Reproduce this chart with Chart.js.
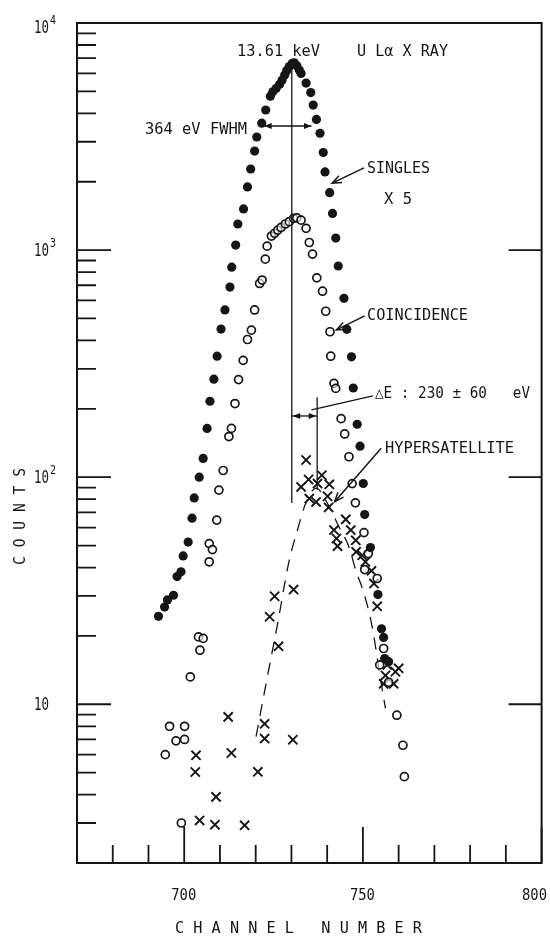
<!DOCTYPE html>
<html>
<head>
<meta charset="UTF-8">
<title>U L-alpha X ray</title>
<script src="https://cdn.jsdelivr.net/npm/chart.js"></script>
<style>
    html, body { margin: 0; padding: 0; background: #fff; }
    #wrap { width: 550px; height: 939px; }
</style>
</head>
<body>
<div id="wrap"><canvas id="chart" width="550" height="939"></canvas></div>
<script>
// singles (filled dots), channel number / counts
const singlesX = [692.8, 694.5, 695.3, 697.0, 698.0, 699.1, 699.7, 701.1, 702.2, 702.8, 704.2, 705.3, 706.4, 707.2, 708.3,
    709.2, 710.3, 711.4, 712.8, 713.3, 714.4, 715.0, 716.6, 717.7, 718.6, 719.7, 720.3, 721.7, 722.8, 724.1, 724.8, 725.7,
    726.7, 727.4, 728.1, 728.7, 729.4, 730.2, 730.8, 731.5, 732.2, 732.7, 734.1, 735.4, 736.1, 737.0, 738.0, 738.9, 739.4,
    740.7, 741.5, 742.4, 743.1, 744.7, 745.5, 746.8, 747.3, 748.4, 749.2, 750.1, 750.5, 752.1, 754.2, 755.2, 755.8, 756.1, 757.2];
const singlesY = [24.4, 26.8, 28.8, 30.2, 36.5, 38.3, 45, 51.8, 66, 81, 100, 121, 164, 216, 270,
    341, 449, 545, 687, 841, 1052, 1303, 1518, 1898, 2275, 2728, 3148, 3623, 4140, 4760, 4980, 5150,
    5380, 5610, 5900, 6170, 6430, 6640, 6680, 6480, 6210, 6000, 5440, 4940, 4350, 3760, 3270, 2690, 2210,
    1790, 1450, 1130, 851, 613, 448, 339, 247, 171, 137, 93.8, 68.5, 49, 30.4, 21.5, 19.7, 15.9, 15.4];

// coincidence (open circles)
const coincX = [694.7, 695.9, 697.7, 699.2, 700.1, 700.1, 701.7, 704.0, 704.4, 705.3, 707.0, 707.0, 707.9, 709.1, 709.7,
    710.9, 712.5, 713.2, 714.2, 715.2, 716.5, 717.7, 718.8, 719.7, 721.1, 721.8, 722.7, 723.2, 724.4, 725.3, 726.2,
    727.1, 728.3, 729.4, 730.6, 731.5, 732.7, 734.1, 735.0, 735.9, 737.1, 738.7, 739.6, 740.8, 741.0, 741.9, 742.4,
    743.9, 744.9, 746.1, 747.0, 747.9, 750.3, 751.5, 750.5, 754.0, 755.8, 754.7, 757.2, 759.5, 761.2, 761.6];
const coincY = [6.0, 8.0, 6.9, 3.0, 8.0, 7.0, 13.2, 19.8, 17.3, 19.5, 42.4, 51, 48, 64.7, 87.7,
    107, 151, 164, 211, 269, 327, 404, 444, 545, 713, 738, 912, 1041, 1153, 1186, 1225,
    1258, 1303, 1334, 1380, 1387, 1355, 1247, 1080, 960, 755, 659, 538, 437, 341, 259, 246,
    181, 155, 123, 93.7, 77.1, 57, 46.1, 39.2, 35.8, 17.6, 14.9, 12.5, 8.95, 6.6, 4.8];

// hypersatellite (crosses)
const hyperX = [703.3, 703.1, 704.3, 708.6, 708.9, 712.3, 713.2, 716.9, 720.6, 722.5, 722.5, 723.9, 725.3, 726.4, 730.4,
    730.6, 732.7, 734.1, 734.8, 735.0, 736.9, 737.3, 738.5, 740.1, 740.4, 740.6, 741.9, 742.6, 742.9, 745.2, 746.6,
    748.0, 748.1, 749.8, 750.7, 752.4, 753.1, 754.0, 755.8, 756.3, 756.8, 758.6, 759.1, 760.0];
const hyperY = [5.96, 5.03, 3.08, 2.95, 3.91, 8.8, 6.1, 2.93, 5.04, 8.2, 7.06, 24.3, 29.9, 18.0, 6.98,
    32.0, 90.6, 119, 97.7, 80.5, 77.8, 93.7, 102, 82.4, 73.6, 93, 58.5, 53.7, 49.7, 65.2, 58.5,
    52.7, 46.9, 45.3, 42.4, 38.7, 34.0, 27.0, 12.3, 13.4, 14.9, 12.3, 13.9, 14.4];

// dashed hand-drawn curve through the hypersatellite
const fitX = [720.1, 723.1, 726.3, 729.2, 731.8, 734.0, 736.9, 740.1, 743.3, 746.1, 748.0, 750.3, 752.6, 754.9, 756.3];
const fitY = [7.2, 12.8, 23.4, 41.7, 59.4, 76.7, 89.5, 76.6, 60.4, 49.3, 38.9, 30.8, 21.9, 13.0, 9.6];

// axes
const xMajor = [700, 750, 800];
const xMajorLabels = ['700', '750', '800'];
const xMinor = [680, 690, 710, 720, 730, 740, 760, 770, 780, 790];
const yDecades = [10, 100, 1000, 10000];
const yDecadeExp = ['', '2', '3', '4'];
const yMinor = [3, 4, 5, 6, 7, 8, 9, 20, 30, 40, 50, 60, 70, 80, 90,
    200, 300, 400, 500, 600, 700, 800, 900, 2000, 3000, 4000, 5000, 6000, 7000, 8000, 9000];

const INK = '#151515';
const FONT = '"DejaVu Sans Mono", "Liberation Mono", monospace';

function pairs(xs, ys) {
    return xs.map((x, i) => ({ x: x, y: ys[i] }));
}

// draws text squeezed/stretched to span x0..x1, centered vertically at yc
function fitText(ctx, str, x0, x1, yc, size) {
    ctx.save();
    ctx.font = size + 'px ' + FONT;
    ctx.textAlign = 'left';
    ctx.textBaseline = 'alphabetic';
    const w = ctx.measureText(str).width;
    ctx.translate(x0, yc + size * 0.365);
    ctx.scale((x1 - x0) / w, 1);
    ctx.fillText(str, 0, 0);
    ctx.restore();
}

function arrowHead(ctx, x1, y1, x2, y2, len, filled) {
    const a = Math.atan2(y2 - y1, x2 - x1);
    const s = 0.38;
    ctx.beginPath();
    ctx.moveTo(x2 - len * Math.cos(a - s), y2 - len * Math.sin(a - s));
    ctx.lineTo(x2, y2);
    ctx.lineTo(x2 - len * Math.cos(a + s), y2 - len * Math.sin(a + s));
    if (filled) { ctx.closePath(); ctx.fill(); } else { ctx.stroke(); }
}

const decorations = {
    id: 'decorations',
    afterDraw(chart) {
        const ctx = chart.ctx;
        const a = chart.chartArea;
        const xs = chart.scales.x, ys = chart.scales.y;
        const px = v => xs.getPixelForValue(v);
        const py = v => ys.getPixelForValue(v);

        ctx.save();
        ctx.strokeStyle = INK;
        ctx.fillStyle = INK;

        // frame
        ctx.lineWidth = 2;
        ctx.strokeRect(a.left, a.top, a.right - a.left, a.bottom - a.top);

        // ticks, pointing inward
        ctx.lineWidth = 1.8;
        ctx.beginPath();
        yDecades.forEach(v => {
            const y = py(v);
            ctx.moveTo(a.left, y); ctx.lineTo(a.left + 34, y);
            if (v < 10000) { ctx.moveTo(a.right, y); ctx.lineTo(a.right - 33, y); }
        });
        yMinor.forEach(v => {
            const y = py(v);
            ctx.moveTo(a.left, y); ctx.lineTo(a.left + 19, y);
        });
        xMajor.forEach(v => {
            const x = px(v);
            ctx.moveTo(x, a.bottom); ctx.lineTo(x, a.bottom - 36);
        });
        xMinor.forEach(v => {
            const x = px(v);
            ctx.moveTo(x, a.bottom); ctx.lineTo(x, a.bottom - 18);
        });
        ctx.stroke();

        // tick labels
        xMajor.forEach((v, i) => {
            let c = px(v);
            if (c + 13 > 548) c = 548 - 13;
            fitText(ctx, xMajorLabels[i], c - 13, c + 12, 894, 16);
        });
        yDecades.forEach((v, i) => {
            const y = Math.max(py(v), 27);
            fitText(ctx, '10', 34, 49, y, 17);
            if (yDecadeExp[i]) fitText(ctx, yDecadeExp[i], 50, 56, y - 8, 13);
        });

        // axis titles
        fitText(ctx, 'C H A N N E L   N U M B E R', 175, 422, 928, 15);
        ctx.save();
        ctx.translate(20, 565);
        ctx.rotate(-Math.PI / 2);
        fitText(ctx, 'C O U N T S', 0, 97, 0, 15);
        ctx.restore();

        // peak line and energy shift
        ctx.lineWidth = 1.3;
        const xPeak = px(730.1), xHyp = px(737.2);
        ctx.beginPath();
        ctx.moveTo(xPeak, py(6700)); ctx.lineTo(xPeak, py(77));
        ctx.moveTo(xHyp, py(225)); ctx.lineTo(xHyp, py(88));
        ctx.stroke();

        const yDE = py(186);
        ctx.beginPath();
        ctx.moveTo(xPeak, yDE); ctx.lineTo(xHyp, yDE);
        ctx.stroke();
        arrowHead(ctx, xHyp, yDE, xPeak + 1, yDE, 8, true);
        arrowHead(ctx, xPeak, yDE, xHyp - 1, yDE, 8, true);

        ctx.beginPath();
        ctx.moveTo(px(735.6), py(198)); ctx.lineTo(px(752.8), py(228));
        ctx.stroke();

        // FWHM arrow
        const yF = py(3520), xF0 = px(722.4), xF1 = px(735.6);
        ctx.beginPath();
        ctx.moveTo(xF0, yF); ctx.lineTo(xF1, yF);
        ctx.stroke();
        arrowHead(ctx, xF1, yF, xF0, yF, 8, true);
        arrowHead(ctx, xF0, yF, xF1, yF, 8, true);

        // leader arrows
        ctx.lineWidth = 1.5;
        const leaders = [
            [750.3, 2300, 741.4, 1972],
            [750.5, 513, 742.6, 445],
            [755.1, 134, 742.1, 78]
        ];
        leaders.forEach(l => {
            const x1 = px(l[0]), y1 = py(l[1]), x2 = px(l[2]), y2 = py(l[3]);
            ctx.beginPath();
            ctx.moveTo(x1, y1); ctx.lineTo(x2, y2);
            ctx.stroke();
            arrowHead(ctx, x1, y1, x2, y2, 10, false);
        });

        // labels
        fitText(ctx, '13.61 keV', 237, 320, 50, 16);
        fitText(ctx, 'U L\u03b1 X RAY', 357, 448, 50, 16);
        fitText(ctx, '364 eV FWHM', 145, 247, 128, 16);
        fitText(ctx, 'SINGLES', 367, 430, 167, 16);
        fitText(ctx, 'X 5', 384, 412, 198, 16);
        fitText(ctx, 'COINCIDENCE', 367, 468, 314, 16);
        fitText(ctx, '\u25b3E : 230 \u00b1 60   eV', 375, 530, 392, 16);
        fitText(ctx, 'HYPERSATELLITE', 385, 514, 447, 16);

        ctx.restore();
    }
};

const ctx = document.getElementById('chart').getContext('2d');
const chart = new Chart(ctx, {
    type: 'scatter',
    data: {
        datasets: [
            {
                label: 'Singles x 5',
                data: pairs(singlesX, singlesY),
                pointStyle: 'circle',
                pointRadius: 4.6,
                backgroundColor: INK,
                borderColor: INK,
                borderWidth: 0
            },
            {
                label: 'Coincidence',
                data: pairs(coincX, coincY),
                pointStyle: 'circle',
                pointRadius: 4,
                backgroundColor: 'rgba(255,255,255,0.6)',
                borderColor: INK,
                borderWidth: 1.7
            },
            {
                label: 'Hypersatellite',
                data: pairs(hyperX, hyperY),
                pointStyle: 'crossRot',
                pointRadius: 6.5,
                borderColor: INK,
                borderWidth: 1.9
            },
            {
                label: 'Hypersatellite curve',
                data: pairs(fitX, fitY),
                showLine: true,
                pointRadius: 0,
                borderColor: INK,
                borderWidth: 1.3,
                borderDash: [12, 9],
                cubicInterpolationMode: 'monotone'
            }
        ]
    },
    options: {
        responsive: false,
        animation: false,
        devicePixelRatio: 1,
        layout: { padding: { left: 77, top: 23, right: 4, bottom: 76 } },
        plugins: {
            legend: { display: false },
            tooltip: { enabled: false }
        },
        scales: {
            x: { type: 'linear', min: 670, max: 800, display: false },
            y: { type: 'logarithmic', min: 2, max: 10000, display: false }
        }
    },
    plugins: [decorations]
});
</script>
</body>
</html>
